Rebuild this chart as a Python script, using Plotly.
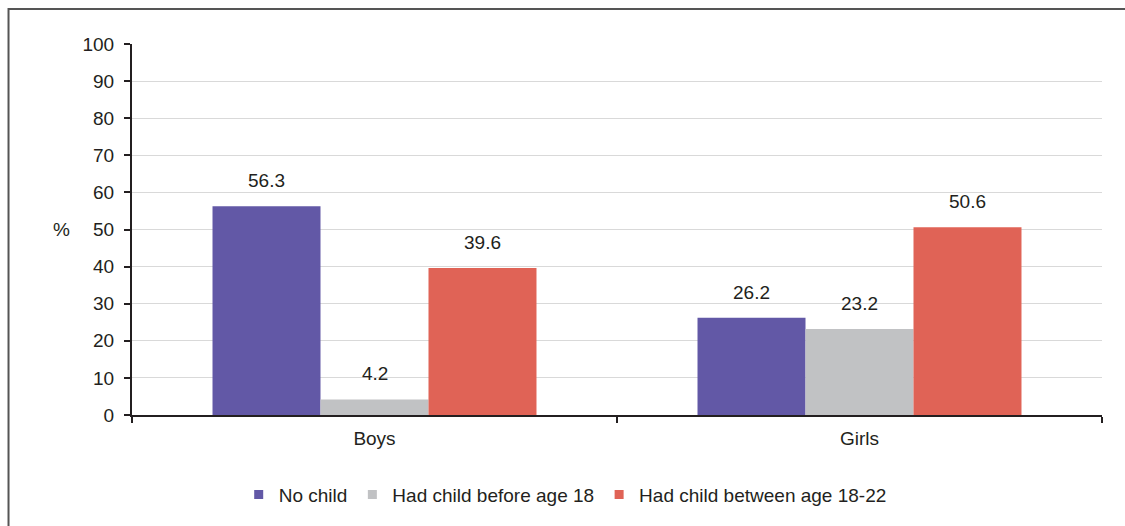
import plotly.graph_objects as go

categories = ["Boys", "Girls"]
series_names = ["No child", "Had child before age 18", "Had child between age 18-22"]
no_child = [56.3, 26.2]
before_18 = [4.2, 23.2]
between_18_22 = [39.6, 50.6]
y_ticks = [0, 10, 20, 30, 40, 50, 60, 70, 80, 90, 100]

colors = ["#6258A6", "#C1C2C4", "#E06356"]
text_color = "#231F20"
font_family = "Liberation Sans, Arial, sans-serif"
fs = 19
bargap = 0.332

fig = go.Figure()
series = [no_child, before_18, between_18_22]
for name, vals, col in zip(series_names, series, colors):
    fig.add_trace(go.Bar(x=categories, y=vals, name=name, marker_color=col,
                         marker_line_width=0, showlegend=False, hoverinfo="skip"))
    # small square swatch for the legend
    fig.add_trace(go.Scatter(x=[None], y=[None], mode="markers", name=name,
                             marker=dict(symbol="square", size=9, color=col)))

# value labels above each bar
bar_w = (1 - bargap) / len(series)
annotations = []
for si, vals in enumerate(series):
    offset = (si - (len(series) - 1) / 2) * bar_w
    for ci, v in enumerate(vals):
        annotations.append(dict(x=ci + offset, y=v, xref="x", yref="y", text=f"{v:.1f}",
                                showarrow=False, yanchor="bottom", yshift=13,
                                font=dict(size=fs, color=text_color, family=font_family)))
annotations.append(dict(x=-0.083, y=50, xref="paper", yref="y", text="%", showarrow=False,
                        font=dict(size=fs, color=text_color, family=font_family)))

fig.update_layout(
    width=1125, height=526,
    margin=dict(l=132, r=23, t=44, b=111),
    paper_bgcolor="white", plot_bgcolor="white",
    barmode="group", bargap=bargap, bargroupgap=0,
    font=dict(family=font_family, size=fs, color=text_color),
    annotations=annotations,
    showlegend=True,
    legend=dict(orientation="h", x=0.11, xanchor="left", y=-0.215, yanchor="middle",
                font=dict(size=fs, color=text_color), itemwidth=30,
                tracegroupgap=0, bgcolor="rgba(0,0,0,0)"),
    shapes=[dict(type="rect", xref="paper", yref="paper", x0=-0.1273, x1=1.1, y0=-0.4, y1=1.0943,
                 line=dict(color="#555555", width=2), fillcolor="rgba(0,0,0,0)", layer="below")],
)
fig.update_xaxes(showline=True, linecolor="#231F20", linewidth=2, ticks="outside",
                 tickson="boundaries", ticklen=6, tickcolor="#231F20", tickwidth=2,
                 showgrid=False, tickfont=dict(size=fs), range=[-0.5, 1.5],
                 ticklabelstandoff=5)
fig.update_yaxes(range=[0, 100], tickvals=y_ticks, showline=True, linecolor="#231F20",
                 linewidth=2, ticks="outside", ticklen=6, tickcolor="#231F20", tickwidth=2,
                 showgrid=True, gridcolor="#D9D9D9", gridwidth=1, zeroline=False,
                 tickfont=dict(size=fs), ticklabelstandoff=6)

fig.write_html("out.html")
